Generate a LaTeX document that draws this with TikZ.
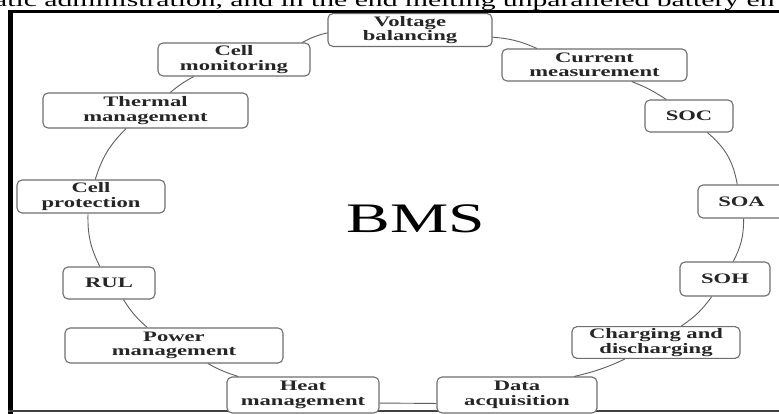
\documentclass[tikz,border=0pt]{standalone}
\usepackage{fontspec}
\setmainfont[FakeStretch=1.56]{Liberation Serif}
\definecolor{boxline}{RGB}{110, 110, 110}
\definecolor{ringline}{RGB}{95, 95, 95}

\begin{document}
\begin{tikzpicture}[
    x=1pt, y=1pt,
    block/.style={rectangle, draw=boxline, line width=1.1pt, rounded corners=5pt, fill=white, minimum height=33pt, inner sep=2pt, align=center, text=black!85, font=\fontsize{14.5}{14.5}\selectfont\bfseries},
    link/.style={draw=ringline, line width=0.9pt}
  ]
    \clip (0,0) rectangle (779,413);
    \fill[white] (0,0) rectangle (779,413);

    % line of the page above the figure
    \node[anchor=base west, inner sep=0pt, font=\fontsize{19}{19}\selectfont] (pageline) at (-6,406) {atic administration, and in the end melting unparalleled battery en};

    % frame
    \draw[line width=5pt] (10.5,-2) -- (10.5,403);
    \draw[line width=3.5pt] (8,401.5) -- (790,401.5);
    \draw[line width=2pt, black!75] (8,2) -- (790,2);

    \node[font=\fontsize{42}{42}\selectfont, inner sep=0pt, anchor=base] (bms) at (416,181) {BMS};

    \node[block, minimum width=164pt] (vb) at (410,383) {Voltage\\balancing};
    \node[block, minimum width=185pt, minimum height=32pt] (cur) at (594.5,348) {Current\\measurement};
    \node[block, minimum width=88pt, minimum height=32pt] (soc) at (689,297) {SOC};
    \node[block, minimum width=87pt] (soa) at (741.5,211.5) {SOA};
    \node[block, minimum width=90pt, minimum height=34pt] (soh) at (725,134) {SOH};
    \node[block, minimum width=168pt, minimum height=31pt] (chg) at (656,70.5) {Charging and\\discharging};
    \node[block, minimum width=160pt, minimum height=36pt] (data) at (517,18) {Data\\acquisition};
    \node[block, minimum width=152pt, minimum height=36pt] (heat) at (303,18) {Heat\\management};
    \node[block, minimum width=218pt, minimum height=35pt] (power) at (174,67.5) {Power\\management};
    \node[block, minimum width=92pt, minimum height=32pt] (rul) at (109,130) {RUL};
    \node[block, minimum width=148pt] (prot) at (91,216.5) {Cell\\protection};
    \node[block, minimum width=205pt, minimum height=35pt] (therm) at (145.5,302.5) {Thermal\\management};
    \node[block, minimum width=152pt] (mon) at (234,353.5) {Cell\\monitoring};

    % ring, clockwise
    \draw[link] (vb.-5) to[bend left=10] (cur.164);
    \draw[link] (cur.-24) to[bend left=6] (soc.144);
    \draw[link] (soc.-42) to[bend left=20] (soa.104);
    \draw[link] (soa.-83) to[bend left=14] (soh.65);
    \draw[link] (soh.-127) to[bend left=10] (chg.33);
    \draw[link] (chg.-152) to[bend left=6] (data.18);
    \draw[link] (data.186) -- (heat.-6);
    \draw[link] (heat.164) to[bend left=6] (power.-28);
    \draw[link] (power.146) to[bend left=8] (rul.-49);
    \draw[link] (rul.119) to[bend left=14] (prot.-100);
    \draw[link] (prot.76) to[bend left=14] (therm.-137);
    \draw[link] (therm.36) to[bend left=6] (mon.-157);
    \draw[link] (mon.14) to[bend left=8] (vb.182);
\end{tikzpicture}
\end{document}
